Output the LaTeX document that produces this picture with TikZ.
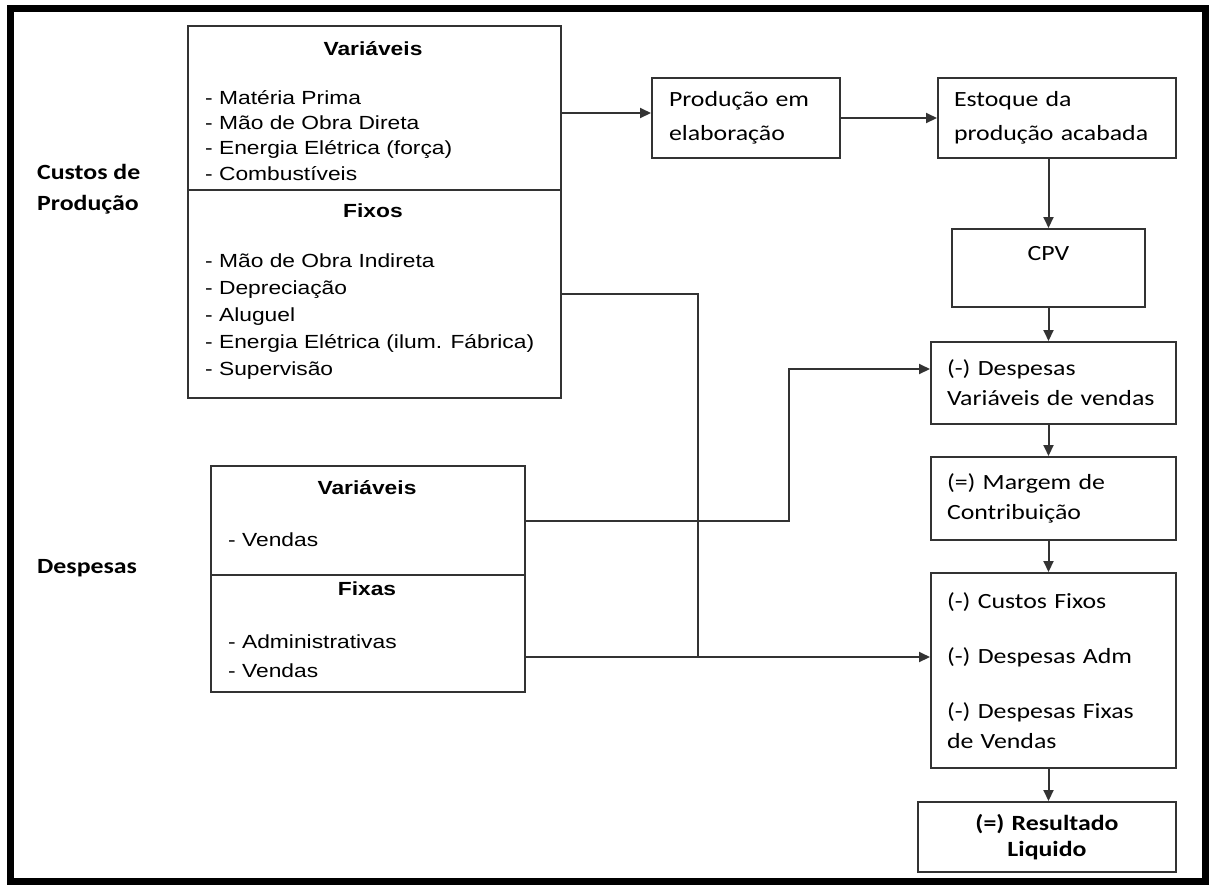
\documentclass[tikz,border=0pt]{standalone}
\usepackage{fontspec}
\setmainfont{Liberation Sans}[FakeStretch=1.2]
\newfontfamily\calfont{Carlito}[FakeStretch=1.19]
\definecolor{linegray}{gray}{0.2}
\usepackage{tikz}
\usetikzlibrary{arrows.meta, positioning, calc}

\begin{document}
\begin{tikzpicture}[
  x=1pt, y=-1pt,
  box/.style={rectangle, draw=linegray, line width=2pt, inner sep=0pt},
  cbox/.style={box, font=\calfont\fontsize{21.7}{30}\selectfont, align=left, inner xsep=16pt},
  head/.style={font=\bfseries\fontsize{19}{25}\selectfont, anchor=base, inner sep=0pt},
  item/.style={font=\fontsize{19}{25}\selectfont, anchor=base west, inner sep=0pt},
  side/.style={font=\calfont\bfseries\fontsize{21.7}{31}\selectfont, anchor=base west, inner sep=0pt},
  line/.style={draw=linegray, line width=2pt},
  arrow/.style={line, -{Triangle[length=11pt, width=10pt]}}
]
  \useasboundingbox (0,0) rectangle (1211,887);
  \draw[line width=7pt] (10.5,8) rectangle (1205.5,881);

  % Rótulos laterais
  \node[side] (lcus1) at (37,179) {Custos de};
  \node[side] (lcus2) at (37,210) {Produção};
  \node[side] (ldesp) at (37,573) {Despesas};

  % Custos de produção
  \node[box, anchor=north west, minimum width=373pt, minimum height=164pt] (cvar) at (187,25) {};
  \node[box, anchor=north west, minimum width=373pt, minimum height=208pt] (cfix) at (187,189) {};
  \node[head] (cvhead) at (373,55) {Variáveis};
  \foreach \t [count=\i] in {Matéria Prima, Mão de Obra Direta, Energia Elétrica (força), Combustíveis} {
    \node[item] (cv\i) at (205, 78.6+25.4*\i) {- \t};
  }
  \node[head] (cfhead) at (373,217) {Fixos};
  \foreach \t [count=\i] in {Mão de Obra Indireta, Depreciação, Aluguel, Energia Elétrica (ilum. Fábrica), Supervisão} {
    \node[item] (cf\i) at (205, 240+27*\i) {- \t};
  }

  % Despesas
  \node[box, anchor=north west, minimum width=314pt, minimum height=109pt] (dvar) at (210,465) {};
  \node[box, anchor=north west, minimum width=314pt, minimum height=117pt] (dfix) at (210,574) {};
  \node[head] (dvhead) at (367,494) {Variáveis};
  \node[item] (dv1) at (228,546) {- Vendas};
  \node[head] (dfhead) at (367,595) {Fixas};
  \node[item] (df1) at (228,648) {- Administrativas};
  \node[item] (df2) at (228,677) {- Vendas};

  % Coluna de resultado
  \node[cbox, minimum width=188pt, minimum height=80pt, text width=154pt,
        font=\calfont\fontsize{21.7}{34}\selectfont] (prod) at (746,118) {Produção em\\elaboração};
  \node[cbox, minimum width=238pt, minimum height=80pt, text width=206pt,
        font=\calfont\fontsize{21.7}{34}\selectfont] (estq) at (1057,118) {Estoque da\\produção acabada};
  \node[cbox, minimum width=193pt, minimum height=78pt, text width=161pt, align=center] (cpv) at (1048.5,268) {CPV\\\mbox{}};
  \node[cbox, minimum width=245pt, minimum height=82pt, text width=213pt] (dv) at (1053.5,383) {(-) Despesas\\Variáveis de vendas};
  \node[cbox, minimum width=245pt, minimum height=83pt, text width=213pt] (mc) at (1053.5,498.5) {(=) Margem de\\Contribuição};
  \node[cbox, minimum width=245pt, minimum height=195pt, text width=213pt] (cf) at (1053.5,670.5)
    {(-) Custos Fixos\\[25pt](-) Despesas Adm\\[25pt](-) Despesas Fixas\\de Vendas};
  \node[cbox, minimum width=258pt, minimum height=70pt, text width=226pt, align=center,
        font=\calfont\bfseries\fontsize{21.7}{26}\selectfont] (res) at (1047,837) {(=) Resultado\\Liquido};

  % Ligações
  \coordinate (prodin) at ([yshift=5pt]prod.west);
  \coordinate (jn) at (698,657);
  \coordinate (bend) at (789,369);
  \draw[arrow] (cvar.east |- prodin) -- (prodin);
  \draw[arrow] (prod.east) -- (estq.west);
  \draw[arrow] (estq.south -| cpv.north) -- (cpv.north);
  \draw[arrow] (cpv.south) -- (cpv.south |- dv.north);
  \draw[arrow] (dv.south -| cpv.south) -- (cpv.south |- mc.north);
  \draw[arrow] (mc.south -| cpv.south) -- (cpv.south |- cf.north);
  \draw[arrow] (cf.south -| cpv.south) -- (cpv.south |- res.north);
  \draw[line] (cfix.east) -| (jn);
  \draw[arrow] (dfix.east |- jn) -- (cf.west |- jn);
  \draw[arrow] (dvar.east) -| (bend) -- (dv.west |- bend);
\end{tikzpicture}
\end{document}
